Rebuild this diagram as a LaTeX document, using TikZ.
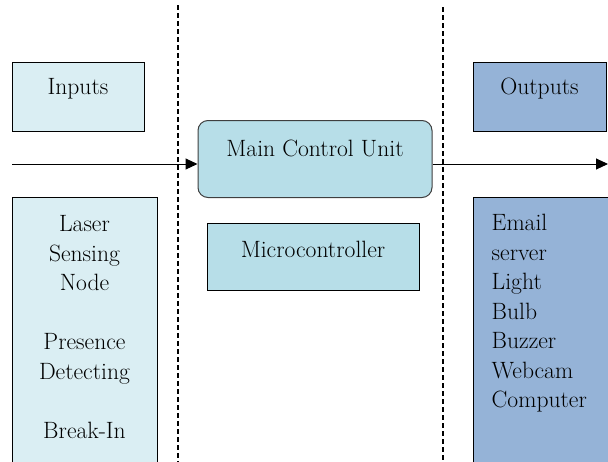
\documentclass[tikz,border=0pt]{standalone}
\usepackage{tikz}
\usepackage{xcolor}
\usetikzlibrary{positioning, arrows.meta, calc}
\definecolor{inFill}{HTML}{DAEEF3}
\definecolor{unitFill}{HTML}{B7DEE8}
\definecolor{outFill}{HTML}{95B3D7}
\definecolor{unitEdge}{HTML}{3F3F3F}

\begin{document}
\begin{tikzpicture}[x=1pt, y=-1pt,
  block/.style={draw=black, line width=1pt, inner sep=0pt, align=center,
                font=\fontsize{23.6}{29.5}\selectfont},
  unit/.style={block, draw=unitEdge, fill=unitFill, rounded corners=10pt},
  listtext/.style={inner sep=0pt, font=\fontsize{23.6}{29.5}\selectfont},
  divider/.style={dashed, line width=1.2pt, dash pattern=on 5pt off 3pt},
  flow/.style={-{Triangle[length=12pt, width=11pt]}, line width=1pt},
]
  \useasboundingbox (0,0) rectangle (608,461);

  % left column
  \node[block, fill=inFill, minimum width=132pt, text height=32pt, text depth=37pt]
       (inputs) at (78,62) [anchor=north] {Inputs};
  \node[block, fill=inFill, minimum width=145pt, minimum height=273pt]
       (inlist) at (84.5,333.5) {};
  \node[listtext, anchor=north, align=center, text width=140pt]
       (intext) at ([yshift=-19pt]inlist.north)
       {Laser\\Sensing\\Node\\[29.5pt]Presence\\Detecting\\[29.5pt]Break-In};

  % middle column
  \node[unit, minimum width=234pt, text height=36pt, text depth=41pt]
       (mcu) at (315,120) [anchor=north] {Main Control Unit};
  \node[block, fill=unitFill, minimum width=212pt, text height=34pt, text depth=33pt]
       (micro) at (313,223) [anchor=north] {Microcontroller};

  % right column
  \node[block, fill=outFill, minimum width=133pt, text height=32pt, text depth=37pt]
       (outputs) at (539.5,62) [anchor=north] {Outputs};
  \node[block, fill=outFill, minimum width=142pt, minimum height=273pt]
       (outlist) at (544,333.5) {};
  \node[listtext, anchor=north west, align=left]
       (outtext) at ([xshift=19pt, yshift=-17.5pt]outlist.north west)
       {Email\\server\\Light\\Bulb\\Buzzer\\Webcam\\Computer};

  % dividers
  \draw[divider] (178,5) -- (178,465);
  \draw[divider] (443,7) -- (443,465);

  % signal flow
  \coordinate (instart) at (12,164);
  \coordinate (outend) at (608,164);
  \draw[flow] (instart) -- (instart -| mcu.west);
  \draw[flow] (mcu.east |- outend) -- (outend);
\end{tikzpicture}
\end{document}
